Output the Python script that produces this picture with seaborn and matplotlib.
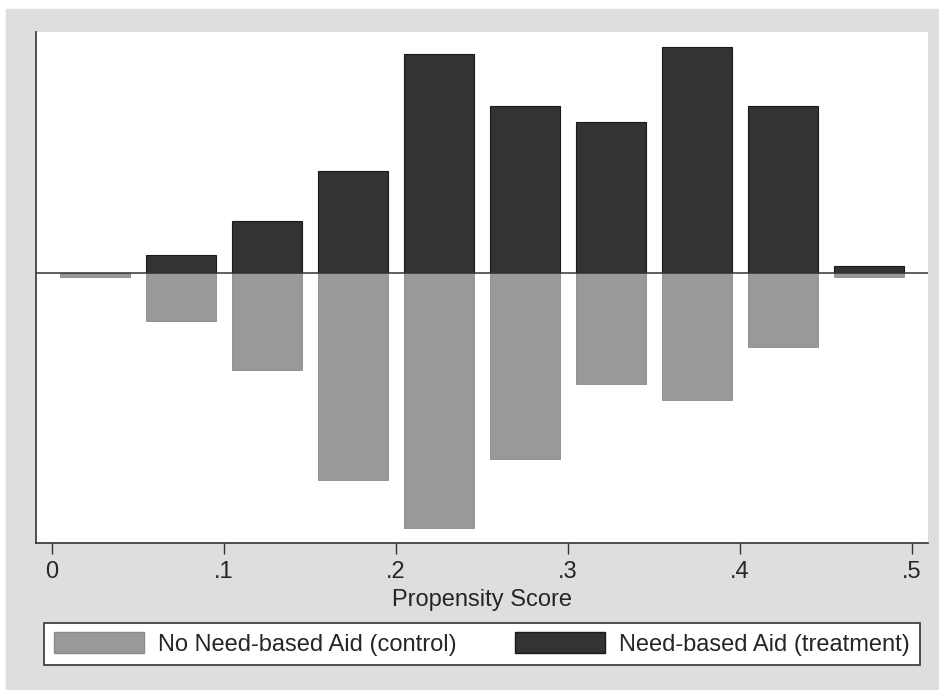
import numpy as np
import pandas as pd
import seaborn as sns
import matplotlib.pyplot as plt
from matplotlib.patches import Patch, Rectangle

# bin centres of the propensity score histogram (width .05)
bin_mid = [0.025, 0.075, 0.125, 0.175, 0.225, 0.275, 0.325, 0.375, 0.425, 0.475]
# bar heights (arbitrary density units)
treated = [0.0, 0.18, 0.52, 1.02, 2.19, 1.67, 1.51, 2.26, 1.67, 0.07]
control = [0.04, 0.48, 0.97, 2.07, 2.55, 1.86, 1.11, 1.27, 0.74, 0.04]

tick_vals = [0, 0.1, 0.2, 0.3, 0.4, 0.5]
tick_labels = ["0", ".1", ".2", ".3", ".4", ".5"]

labels = ["No Need-based Aid (control)", "Need-based Aid (treatment)"]
col_ctrl = "#999999"
col_treat = "#333333"
bg = "#dedede"

sns.set_theme(style="white")
plt.rcParams["font.family"] = ["Liberation Sans", "DejaVu Sans"]

df = pd.DataFrame({"ps": bin_mid, "treated": treated,
                   "control": -np.array(control)})

fig = plt.figure(figsize=(9.39, 6.9), dpi=100, facecolor="white")
fig.patches.append(Rectangle((6 / 939, 0), 1, (690 - 9) / 690,
                             transform=fig.transFigure, color=bg, zorder=-10))
ax = fig.add_axes([36 / 939, 1 - 543 / 690, (928 - 36) / 939, (543 - 32) / 690])
ax.set_facecolor("white")

sns.barplot(data=df, x="ps", y="treated", native_scale=True, width=0.81,
            color=col_treat, edgecolor="#1a1a1a", linewidth=0.8,
            saturation=1, ax=ax)
sns.barplot(data=df, x="ps", y="control", native_scale=True, width=0.81,
            color=col_ctrl, edgecolor="#8a8a8a", linewidth=0.6,
            saturation=1, ax=ax)
ax.axhline(0, color="#333333", lw=1.1, zorder=5)

ax.set_xlim(-0.0093, 0.5093)
ax.set_ylim(-2.70, 2.41)
ax.set_yticks([])
ax.set_xticks(tick_vals, labels=tick_labels)
ax.tick_params(axis="x", bottom=True, length=8, width=1, color="#333333",
               labelsize=17, pad=5)
ax.set_xlabel("Propensity Score", fontsize=17, labelpad=4)
ax.set_ylabel("")
for s in ["top", "right"]:
    ax.spines[s].set_visible(False)
for s in ["left", "bottom"]:
    ax.spines[s].set_color("#333333")
    ax.spines[s].set_linewidth(1.2)

handles = [Patch(facecolor=col_ctrl, edgecolor="#8a8a8a"),
           Patch(facecolor=col_treat, edgecolor="#1a1a1a")]
leg = fig.legend(handles, labels, ncol=2, loc="center",
                 bbox_to_anchor=(482 / 939, 1 - 644 / 690),
                 fontsize=17, frameon=True, fancybox=False, framealpha=1,
                 handlelength=3.8, handleheight=1.0, handletextpad=0.6,
                 borderaxespad=0, borderpad=0.4, columnspacing=2.5)
leg.get_frame().set_facecolor("white")
leg.get_frame().set_edgecolor("#333333")
leg.get_frame().set_linewidth(1.2)

fig.savefig("out.png", dpi=100)
